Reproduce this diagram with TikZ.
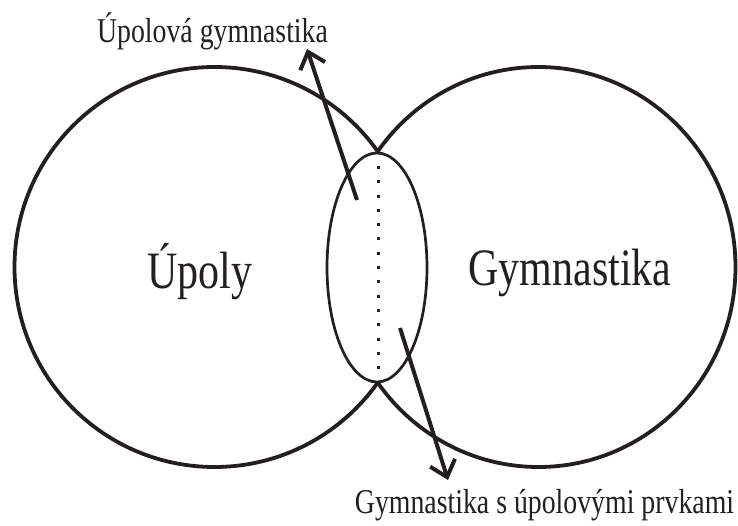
\documentclass[tikz,border=0pt]{standalone}
\usepackage{fontspec}
\setmainfont{Liberation Serif}
\usetikzlibrary{arrows.meta}
\definecolor{ink}{HTML}{231F20}
\tikzset{
  setline/.style={draw=ink, line width=3.8pt},
  midline/.style={draw=ink, line width=2.7pt, fill=white},
  dotline/.style={draw=ink, line width=3pt, dash pattern=on 3pt off 11.3pt},
  pointer/.style={draw=ink, line width=4pt, -{Straight Barb[length=15pt,width=26pt]}},
  smalllabel/.style={text=ink, inner sep=0pt, anchor=base, yscale=1.25, font=\fontsize{27.8}{30}\selectfont},
  biglabel/.style={text=ink, inner sep=0pt, anchor=base, yscale=1.25, font=\fontsize{42}{46}\selectfont}
}
\begin{document}
\begin{tikzpicture}[x=1pt, y=-1pt]
  \useasboundingbox (0,0) rectangle (738,526);
  % two sets
  \draw[setline] (214.5,267) ellipse [x radius=200, y radius=200];
  \draw[setline] (538.5,267) ellipse [x radius=197, y radius=200];
  % intersection
  \draw[midline] (377,267.5) ellipse [x radius=50, y radius=114.5];
  \coordinate (dtop) at (378,166);
  \coordinate (dbot) at (378,383);
  \draw[dotline] (dtop) -- (dbot);
  % labels
  \node[biglabel] (upoly) at (200,288) {Úpoly};
  \node[biglabel] (gym) at (570,286) {Gymnastika};
  \node[smalllabel] (ug) at (212.5,43) {Úpolová gymnastika};
  \node[smalllabel] (gsu) at (544.5,513) {Gymnastika s úpolovými prvkami};
  % pointers
  \coordinate (a1s) at (357,200);
  \coordinate (a1e) at (307,49);
  \coordinate (a2s) at (400,328);
  \coordinate (a2e) at (448,480);
  \draw[pointer] (a1s) -- (a1e);
  \draw[pointer] (a2s) -- (a2e);
\end{tikzpicture}
\end{document}
